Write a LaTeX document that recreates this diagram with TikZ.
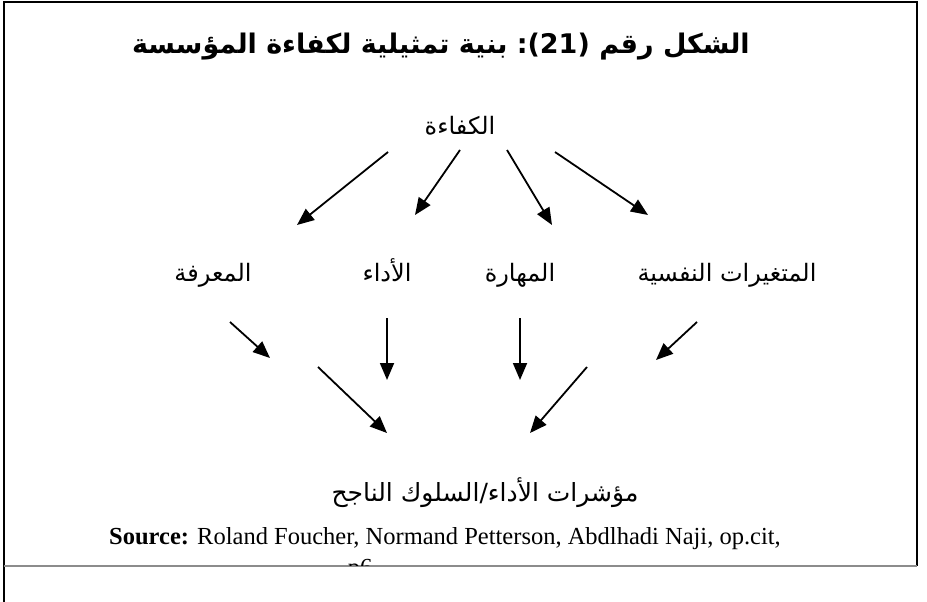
\documentclass[tikz,border=0pt]{standalone}
\usepackage{fontspec}
\setmainfont{Liberation Serif}
\newfontfamily\arabicfont[Script=Arabic]{DejaVu Sans}
\TeXXeTstate=1
\usetikzlibrary{arrows.meta}
\tikzset{
  arr/.style={-{Triangle[length=17pt,width=14pt]},line width=1.8pt},
  ttl/.style={font=\arabicfont\bfseries\fontsize{27}{32}\selectfont,inner sep=0pt,anchor=base},
  lbl/.style={font=\arabicfont\fontsize{24}{29}\selectfont,inner sep=0pt,anchor=base},
  src/.style={font=\fontsize{24.5}{29}\selectfont,inner sep=0pt,anchor=base},
  frm/.style={line width=2pt},
}

\begin{document}
\begin{tikzpicture}[x=1pt,y=-1pt]
  \useasboundingbox (0,0) rectangle (927,602);
  % frame
  \draw[frm] (4,602) -- (4,2) -- (917,2) -- (917,566);
  \draw[line width=1.5pt,black!45] (4,566) -- (917,566);
  % title
  \node[ttl] (title) at (441,54)
    {\beginR الشكل رقم \hbox{(21):} بنية تمثيلية لكفاءة المؤسسة\endR};
  % the five ideas
  \node[lbl] (kafaa) at (460,134) {\beginR الكفاءة\endR};
  \node[lbl] (maarifa) at (213,281) {\beginR المعرفة\endR};
  \node[lbl] (adaa) at (387,281) {\beginR الأداء\endR};
  \node[lbl] (mahara) at (520,281) {\beginR المهارة\endR};
  \node[lbl] (nafsia) at (727,281) {\beginR المتغيرات النفسية\endR};
  \node[lbl,font=\arabicfont\fontsize{25}{30}\selectfont] (mouch) at (485,501)
    {\beginR مؤشرات الأداء/السلوك الناجح\endR};
  % arrow ends
  \coordinate (a1s) at (388,152); \coordinate (a1e) at (297,225);
  \coordinate (a2s) at (460,150); \coordinate (a2e) at (415,215);
  \coordinate (a3s) at (507,150); \coordinate (a3e) at (552,225);
  \coordinate (a4s) at (555,152); \coordinate (a4e) at (648,215);
  \coordinate (b1s) at (230,322); \coordinate (b1e) at (270,358);
  \coordinate (b2s) at (387,318); \coordinate (b2e) at (387,380);
  \coordinate (b3s) at (520,318); \coordinate (b3e) at (520,380);
  \coordinate (b4s) at (697,322); \coordinate (b4e) at (656,360);
  \coordinate (c1s) at (318,367); \coordinate (c1e) at (387,433);
  \coordinate (c2s) at (587,367); \coordinate (c2e) at (530,433);
  \foreach \a in {a1,a2,a3,a4,b1,b2,b3,b4,c1,c2}
    \draw[arr] (\a s) -- (\a e);
  % source, cut at the bottom
  \node[src] (source) at (445,544)
    {\textbf{Source:} Roland Foucher, Normand Petterson, Abdlhadi Naji, op.cit,};
  \begin{scope}
    \clip (0,0) rectangle (927,565);
    \node[src] (page) at (360,575) {p6};
  \end{scope}
\end{tikzpicture}
\end{document}
